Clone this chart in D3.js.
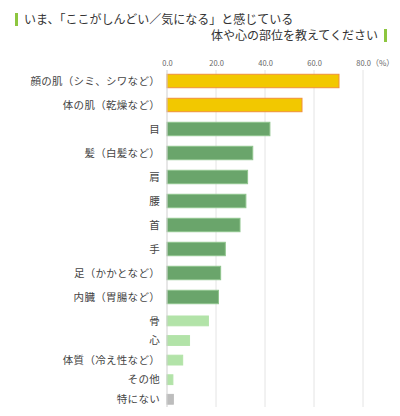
<!DOCTYPE html>
<html>
<head>
<meta charset="utf-8">
<script src="https://cdn.jsdelivr.net/npm/d3@7"></script>
<style>
  body { margin: 0; background: white; }
  text { font-family: "Noto Sans CJK JP", "Noto Sans", sans-serif; }
</style>
</head>
<body>
<div id="container"></div>
<script>
// top group (24px rows) and bottom group (smaller rows)
let topLabels = ["顔の肌（シミ、シワなど）", "体の肌（乾燥など）", "目", "髪（白髪など）", "肩", "腰", "首", "手", "足（かかとなど）", "内臓（胃腸など）"];
let topValues = [70.2, 55.1, 42.0, 35.0, 32.9, 32.2, 29.8, 23.8, 21.9, 21.0];
let topKinds = ["hi", "hi", "mid", "mid", "mid", "mid", "mid", "mid", "mid", "mid"];

let lowLabels = ["骨", "心", "体質（冷え性など）", "その他", "特にない"];
let lowValues = [16.9, 9.2, 6.4, 2.4, 2.6];
let lowKinds = ["lo", "lo", "lo", "lo", "none"];

let ticks = [0, 20, 40, 60, 80];

let viz = d3.select("#container").append("svg")
    .attr("width", 400)
    .attr("height", 416)
    .style("background-color", "white")

let fills = { hi: "#f2c800", mid: "#6aa56b", lo: "#b2e3a8", none: "#bdbdbd" };
let strokes = { hi: "#f0913a", mid: "#8fc48d", lo: "#b2e3a8", none: "#bdbdbd" };

// title
viz.append("rect").attr("x", 15).attr("y", 13).attr("width", 3).attr("height", 13).attr("fill", "#8dc63f")
viz.append("text")
    .attr("x", 24).attr("y", 24)
    .attr("font-size", 12)
    .attr("fill", "#333")
    .text("いま、「ここがしんどい／気になる」と感じている")
viz.append("text")
    .attr("x", 378).attr("y", 40)
    .attr("text-anchor", "end")
    .attr("font-size", 12)
    .attr("fill", "#333")
    .text("体や心の部位を教えてください")
viz.append("rect").attr("x", 384).attr("y", 29).attr("width", 3).attr("height", 13).attr("fill", "#8dc63f")

let x = d3.scaleLinear().domain([0, 80]).range([167, 363]);

let yTop = d3.scaleBand().domain(topLabels).range([69, 309]).paddingInner(0.44).paddingOuter(0.22);
let yLow = d3.scaleBand().domain(lowLabels).range([311.1, 409.1]).paddingInner(0.5).paddingOuter(0.25);

// grid
viz.append("g").selectAll("line").data(ticks.slice(1)).enter().append("line")
    .attr("x1", d => x(d)).attr("x2", d => x(d))
    .attr("y1", 70).attr("y2", 407)
    .attr("stroke", "#e4e4e4")
    .attr("stroke-width", 1)

let axis = viz.append("g")
    .attr("transform", "translate(0,69)")
    .call(d3.axisTop(x).tickValues(ticks).tickFormat(d3.format(".1f")).tickSize(0))
axis.select(".domain").remove()
axis.selectAll("text")
    .attr("font-family", "\"DejaVu Sans\", sans-serif")
    .attr("font-size", 7.5)
    .attr("fill", "#666")
    .attr("dy", 0)
viz.append("text")
    .attr("x", 371).attr("y", 66)
    .attr("font-size", 8)
    .attr("fill", "#666")
    .text("（%）")

function drawGroup(labels, values, kinds, y) {
    let data = labels.map((l, i) => ({ label: l, value: values[i], kind: kinds[i] }));
    let g = viz.append("g");
    g.selectAll("rect").data(data).enter().append("rect")
        .attr("x", x(0))
        .attr("y", d => y(d.label))
        .attr("width", d => x(d.value) - x(0))
        .attr("height", y.bandwidth())
        .attr("fill", d => fills[d.kind])
        .attr("stroke", d => strokes[d.kind])
        .attr("stroke-width", 1)
    g.selectAll("text").data(data).enter().append("text")
        .attr("x", 160)
        .attr("y", d => y(d.label) + y.bandwidth() / 2)
        .attr("dy", "0.36em")
        .attr("text-anchor", "end")
        .attr("font-size", 10.5)
        .attr("letter-spacing", 0.3)
        .attr("fill", "#444")
        .text(d => d.label)
}

drawGroup(topLabels, topValues, topKinds, yTop)
drawGroup(lowLabels, lowValues, lowKinds, yLow)

// zero axis line
viz.append("line")
    .attr("x1", x(0)).attr("x2", x(0))
    .attr("y1", 70).attr("y2", 407)
    .attr("stroke", "#cfcfcf")
    .attr("stroke-width", 1)
</script>
</body>
</html>
